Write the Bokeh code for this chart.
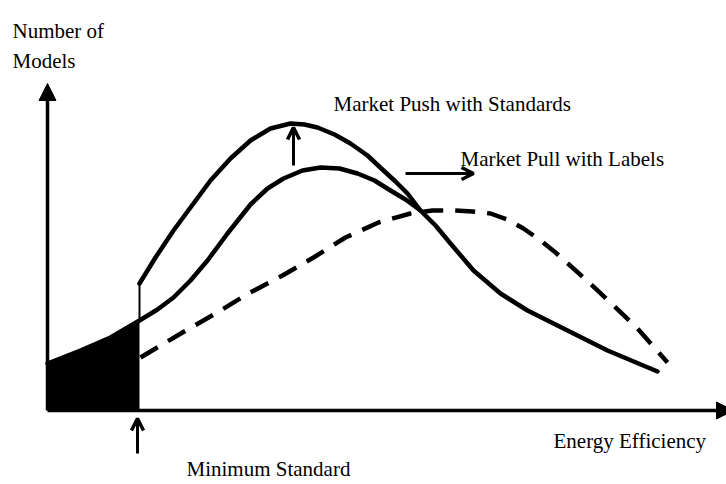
from bokeh.plotting import figure
from bokeh.models import Range1d, Arrow, NormalHead, OpenHead, ColumnDataSource
from bokeh.core.properties import value
from bokeh.embed import file_html
from bokeh.resources import INLINE

# ---- data (efficiency along x, number of models along y; diagram units) ----
min_standard = 92

current_x = [0, 33, 63, 92, 110, 126, 143, 160, 180, 203, 220, 236, 255, 273, 292, 310, 327, 343, 358, 373,
             388, 403, 426, 453, 480, 520, 560, 610]
current_y = [47, 60, 73, 90, 101, 113, 130, 150, 177, 206, 222, 232, 240, 243, 242, 237, 230, 220, 211, 200,
             185, 167, 140, 117, 100, 80, 60, 39]

push_x = [92, 108, 126, 143, 163, 183, 203, 223, 243, 257, 270, 287, 303, 320, 336, 348, 360, 373]
push_y = [127, 153, 180, 203, 230, 252, 270, 282, 287, 286, 283, 276, 267, 255, 240, 229, 217, 200]

pull_x = [93, 135, 168, 201, 235, 266, 298, 331, 363, 385, 406, 425, 443, 460, 476, 493, 508, 536, 563, 590, 620]
pull_y = [53, 78, 97, 117, 135, 153, 173, 188, 197, 200, 200, 199, 197, 191, 182, 170, 158, 133, 108, 82, 48]

# annotation arrows: (x_start, y_start, x_end, y_end)
axis_arrows = [(0, 0, 0, 327), (0, 0, 686, 0)]
note_arrows = [(246, 245, 246, 283), (358, 237, 426, 237), (90, -43, 90, -8)]

labels = ["Number of", "Models", "Market Push with Standards",
          "Market Pull with Labels", "Energy Efficiency", "Minimum Standard"]
label_x = [-35, -35, 286, 413, 506, 139]
label_y = [380, 350, 307, 252, -30, -58]

# ---- figure ----
p = figure(width=726, height=484, output_backend="svg", toolbar_location=None,
           x_range=Range1d(-47, 679), y_range=Range1d(-74, 410),
           min_border=0, outline_line_color=None)
p.axis.visible = False
p.grid.visible = False
p.background_fill_color = "white"

# shaded area below minimum standard
fill_x = [x for x in current_x if x <= min_standard]
fill_y = [y for x, y in zip(current_x, current_y) if x <= min_standard]
p.varea(x=fill_x, y1=[0] * len(fill_x), y2=fill_y, fill_color="black")

# curves
p.line(current_x, current_y, line_width=4.5, line_color="black", line_join="round", line_cap="round")
p.line(push_x, push_y, line_width=4.5, line_color="black", line_join="round", line_cap="round")
p.line(pull_x, pull_y, line_width=4.5, line_color="black", line_dash="20 12", line_join="round")

# thin vertical line at the minimum standard
std_top = push_y[0]
std_bottom = [y for x, y in zip(current_x, current_y) if x == min_standard][0]
p.segment(x0=[min_standard], y0=[std_bottom], x1=[min_standard], y1=[std_top],
          line_width=2, line_color="black")

# axes with arrow heads
for xs, ys, xe, ye in axis_arrows:
    p.add_layout(Arrow(end=NormalHead(size=17, fill_color="black", line_color="black"),
                       x_start=xs, y_start=ys, x_end=xe, y_end=ye,
                       line_width=3.5, line_color="black"))

for xs, ys, xe, ye in note_arrows:
    p.add_layout(Arrow(end=OpenHead(size=12, line_width=3.5, line_color="black"),
                       x_start=xs, y_start=ys, x_end=xe, y_end=ye,
                       line_width=3, line_color="black"))

src = ColumnDataSource(dict(x=label_x, y=label_y, t=labels))
p.text(x="x", y="y", text="t", source=src, text_font=value("Liberation Serif"),
       text_font_size="21px", text_color="black", text_align="left",
       text_baseline="alphabetic")

open("out.html", "w").write(file_html(p, INLINE))
